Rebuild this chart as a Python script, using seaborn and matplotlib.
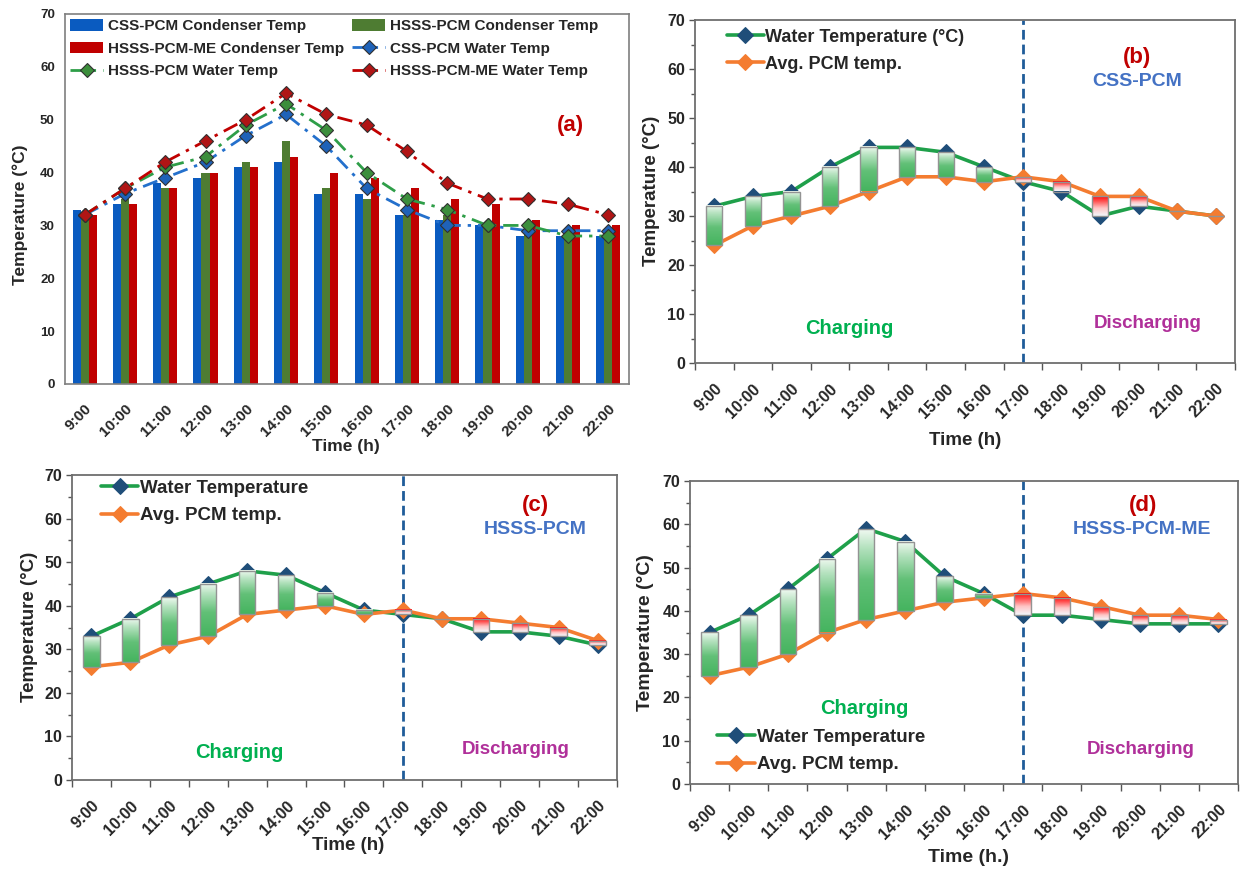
import numpy as np
import pandas as pd
import matplotlib
matplotlib.use("Agg")
import matplotlib.pyplot as plt
import seaborn as sns
from matplotlib.colors import LinearSegmentedColormap
from matplotlib.patches import Patch

# ---------------- data ----------------
times = ["9:00", "10:00", "11:00", "12:00", "13:00", "14:00", "15:00",
         "16:00", "17:00", "18:00", "19:00", "20:00", "21:00", "22:00"]

# panel (a) condenser temperatures (bars)
css_cond = [33, 34, 38, 39, 41, 42, 36, 36, 32, 31, 30, 28, 28, 28]
hsss_cond = [32, 35, 37, 40, 42, 46, 37, 35, 32, 32, 30, 30, 28, 28]
hsssme_cond = [32, 34, 37, 40, 41, 43, 40, 39, 37, 35, 34, 31, 30, 30]
# panel (a) water temperatures (lines)
css_water = [32, 36, 39, 42, 47, 51, 45, 37, 33, 30, 30, 29, 29, 29]
hsss_water = [32, 37, 41, 43, 49, 53, 48, 40, 35, 33, 30, 30, 28, 28]
hsssme_water = [32, 37, 42, 46, 50, 55, 51, 49, 44, 38, 35, 35, 34, 32]

# panel (b) CSS-PCM
b_water = [32, 34, 35, 40, 44, 44, 43, 40, 37, 35, 30, 32, 31, 30]
b_pcm = [24, 28, 30, 32, 35, 38, 38, 37, 38, 37, 34, 34, 31, 30]
# panel (c) HSSS-PCM
c_water = [33, 37, 42, 45, 48, 47, 43, 39, 38, 37, 34, 34, 33, 31]
c_pcm = [26, 27, 31, 33, 38, 39, 40, 38, 39, 37, 37, 36, 35, 32]
# panel (d) HSSS-PCM-ME
d_water = [35, 39, 45, 52, 59, 56, 48, 44, 39, 39, 38, 37, 37, 37]
d_pcm = [25, 27, 30, 35, 38, 40, 42, 43, 44, 43, 41, 39, 39, 38]

bar_names = ["CSS-PCM Condenser Temp", "HSSS-PCM Condenser Temp",
             "HSSS-PCM-ME Condenser Temp"]
line_names = ["CSS-PCM Water Temp", "HSSS-PCM Water Temp",
              "HSSS-PCM-ME Water Temp"]

# ---------------- style ----------------
sns.set_theme(style="white")
plt.rcParams["font.family"] = ["Liberation Sans", "DejaVu Sans"]
plt.rcParams["font.weight"] = "bold"
plt.rcParams["axes.labelweight"] = "bold"

W, H = 1241, 869
fig = plt.figure(figsize=(W / 100, H / 100), dpi=100)


def rect_px(l, t, r, b):
    return [l / W, 1 - b / H, (r - l) / W, (b - t) / H]


def ftext(x, y, s, **kw):
    fig.text(x / W, 1 - y / H, s, ha="center", va="center", fontweight="bold", **kw)


TXT = "#262626"
BAR_COLS = ["#0A5BC0", "#4E7C32", "#C00000"]
LINE_COLS = ["#2470CC", "#2E9E48", "#C00000"]
MARK_COLS = ["#1F62B8", "#3C8E3C", "#B01515"]
GREEN = "#1FA04A"
NAVY = "#1F4E79"
ORANGE = "#F47C30"
LABEL_RED = "#C00000"
SYS_BLUE = "#4472C4"
CHG = "#00B050"
DIS = "#B0309A"
x = np.arange(len(times))

# ---------------- panel (a) ----------------
axa = fig.add_axes(rect_px(64.5, 14, 628.5, 384))
df = pd.DataFrame({
    "Time": times * 3,
    "Temp": css_cond + hsss_cond + hsssme_cond,
    "Series": sum([[n] * len(times) for n in bar_names], []),
})
sns.barplot(data=df, x="Time", y="Temp", hue="Series", hue_order=bar_names,
            palette=dict(zip(bar_names, BAR_COLS)), width=0.6, saturation=1,
            linewidth=0, legend=False, ax=axa, zorder=2)
for yv, lc, mc, nm in zip([css_water, hsss_water, hsssme_water], LINE_COLS,
                          MARK_COLS, line_names):
    sns.lineplot(x=x, y=yv, ax=axa, color=lc, lw=2.0,
                 linestyle=(0, (5.5, 2.5, 1.2, 2.5)), marker="D", markersize=7,
                 markerfacecolor=mc, markeredgecolor="#303030",
                 markeredgewidth=0.8, label=nm, zorder=5)
axa.set_xlim(-0.5, len(times) - 0.5)
axa.set_ylim(0, 70)
axa.set_yticks(range(0, 71, 10))
axa.set_xticks(x)
axa.set_xticklabels(times, rotation=45, ha="right", rotation_mode="anchor",
                    fontsize=11, fontweight="bold", color=TXT)
axa.tick_params(axis="x", length=0, pad=13)
axa.tick_params(axis="y", length=0, pad=7, labelsize=9.5, labelcolor=TXT)
for t in axa.get_yticklabels():
    t.set_fontweight("bold")
axa.set_xlabel("")
axa.set_ylabel("")
for s in axa.spines.values():
    s.set_color("#7F7F7F")
    s.set_linewidth(1.2)

line_h = [l for l in axa.get_lines() if l.get_label() in line_names]
bar_h = [Patch(facecolor=c, edgecolor="none") for c in BAR_COLS]
# row-major order: A B / C D / E F  -> matplotlib column-major list
A, B, C = bar_h
D, E, F = line_h
handles = [A, C, E, B, D, F]
labels = [bar_names[0], bar_names[2], line_names[1],
          bar_names[1], line_names[0], line_names[2]]
axa.legend(handles, labels, ncol=2, loc="upper left", bbox_to_anchor=(0.0, 1.0),
           frameon=False, handlelength=2.2, handleheight=0.75,
           handletextpad=0.3, columnspacing=0.5, labelspacing=0.55,
           borderpad=0.25, borderaxespad=0.1, prop={"weight": "bold", "size": 11})
ftext(570, 125, "(a)", color=LABEL_RED, fontsize=16)
ftext(20, 215, "Temperature (°C)", rotation=90, fontsize=12.5, color=TXT)
ftext(346, 447, "Time (h)", fontsize=12.5, color=TXT)

# ---------------- panels (b)-(d) ----------------
green_cmap = LinearSegmentedColormap.from_list(
    "g", [(0.0, "#45B45F"), (0.45, "#62C077"), (0.8, "#B5E2BF"), (1.0, "#F0F9F1")])
red_cmap = LinearSegmentedColormap.from_list(
    "r", [(0.0, "#F4F8FC"), (0.4, "#FFC4C4"), (0.75, "#FF5050"), (1.0, "#FF0A0A")])
grad = np.linspace(0, 1, 120).reshape(-1, 1)


def panel(rect, water, pcm, water_label, leg_anchor, leg_loc, leg_fs, tick_fs):
    ax = fig.add_axes(rect_px(*rect))
    sns.lineplot(x=x, y=water, ax=ax, color=GREEN, lw=2.6, marker="D",
                 markersize=8, markerfacecolor=NAVY, markeredgecolor=NAVY,
                 label=water_label, zorder=3)
    sns.lineplot(x=x, y=pcm, ax=ax, color=ORANGE, lw=2.6, marker="D",
                 markersize=8, markerfacecolor=ORANGE, markeredgecolor=ORANGE,
                 label="Avg. PCM temp.", zorder=3)
    w = np.array(water, float)
    p = np.array(pcm, float)
    lo = np.minimum(w, p)
    hi = np.maximum(w, p)
    bars = ax.bar(x, hi - lo, bottom=lo, width=0.42, facecolor="none",
                  edgecolor="#939393", linewidth=1.0, zorder=4.5)
    for r, wv, pv in zip(bars.patches, w, p):
        if wv == pv:
            continue
        cmap = green_cmap if wv > pv else red_cmap
        ax.imshow(grad, extent=[r.get_x(), r.get_x() + r.get_width(),
                                r.get_y(), r.get_y() + r.get_height()],
                  origin="lower", cmap=cmap, aspect="auto", zorder=4,
                  interpolation="bilinear")
    ax.axvline(8, color="#1F5C99", lw=2.0, ls=(0, (3.5, 1.8)), zorder=2)
    ax.set_xlim(-0.5, len(times) - 0.5)
    ax.set_ylim(0, 70)
    ax.set_yticks(range(0, 71, 10))
    ax.set_yticks(range(5, 70, 10), minor=True)
    ax.set_xticks(x)
    ax.set_xticks(np.arange(-0.5, len(times), 1), minor=True)
    ax.set_xticklabels(times, rotation=45, ha="right", rotation_mode="anchor",
                       fontsize=tick_fs, fontweight="bold", color=TXT)
    ax.tick_params(axis="x", which="major", bottom=True, length=0, pad=13)
    ax.tick_params(axis="x", which="minor", bottom=True, length=5, width=1,
                   color="#555555", direction="out")
    ax.tick_params(axis="y", which="both", left=True, direction="out",
                   color="#555555", width=1)
    ax.tick_params(axis="y", which="major", length=4, labelsize=tick_fs,
                   labelcolor=TXT, pad=3)
    ax.tick_params(axis="y", which="minor", length=3)
    for t in ax.get_yticklabels():
        t.set_fontweight("bold")
    ax.set_xlabel("")
    ax.set_ylabel("")
    for s in ax.spines.values():
        s.set_color("#6E6E6E")
        s.set_linewidth(1.3)
    h, l = ax.get_legend_handles_labels()
    ax.legend(h, l, loc=leg_loc, bbox_to_anchor=leg_anchor, frameon=False,
              handlelength=2.0, handletextpad=0.1, labelspacing=0.55,
              borderpad=0, borderaxespad=0,
              prop={"weight": "bold", "size": leg_fs})
    return ax


# (b)
panel((695, 20, 1235, 363), b_water, b_pcm, "Water Temperature (°C)",
      (0.06, 0.975), "upper left", 13, 11.5)
ftext(1137, 57, "(b)", color=LABEL_RED, fontsize=16)
ftext(1137, 82, "CSS-PCM", color=SYS_BLUE, fontsize=14)
ftext(849, 328, "Charging", color=CHG, fontsize=14.5)
ftext(1148, 323, "Discharging", color=DIS, fontsize=13.5)
ftext(651, 191, "Temperature (°C)", rotation=90, fontsize=13.5, color=TXT)
ftext(965, 440, "Time (h)", fontsize=13.5, color=TXT)

# (c)
panel((72, 475, 617, 780), c_water, c_pcm, "Water Temperature",
      (0.053, 0.985), "upper left", 13.5, 11.5)
ftext(535, 506, "(c)", color=LABEL_RED, fontsize=16)
ftext(535, 530, "HSSS-PCM", color=SYS_BLUE, fontsize=14)
ftext(239, 752, "Charging", color=CHG, fontsize=14.5)
ftext(516, 750, "Discharging", color=DIS, fontsize=13.5)
ftext(30, 627, "Temperature (°C)", rotation=90, fontsize=13.5, color=TXT)
ftext(348, 845, "Time (h)", fontsize=13.5, color=TXT)

# (d)
panel((690, 481, 1238, 784), d_water, d_pcm, "Water Temperature",
      (0.05, 0.035), "lower left", 13.5, 11.5)
ftext(1143, 505, "(d)", color=LABEL_RED, fontsize=16)
ftext(1142, 530, "HSSS-PCM-ME", color=SYS_BLUE, fontsize=14)
ftext(864, 709, "Charging", color=CHG, fontsize=14.5)
ftext(1141, 750, "Discharging", color=DIS, fontsize=13.5)
ftext(646, 633, "Temperature (°C)", rotation=90, fontsize=14, color=TXT)
ftext(968, 857, "Time (h.)", fontsize=14, color=TXT)

fig.savefig("out.png", dpi=100)
